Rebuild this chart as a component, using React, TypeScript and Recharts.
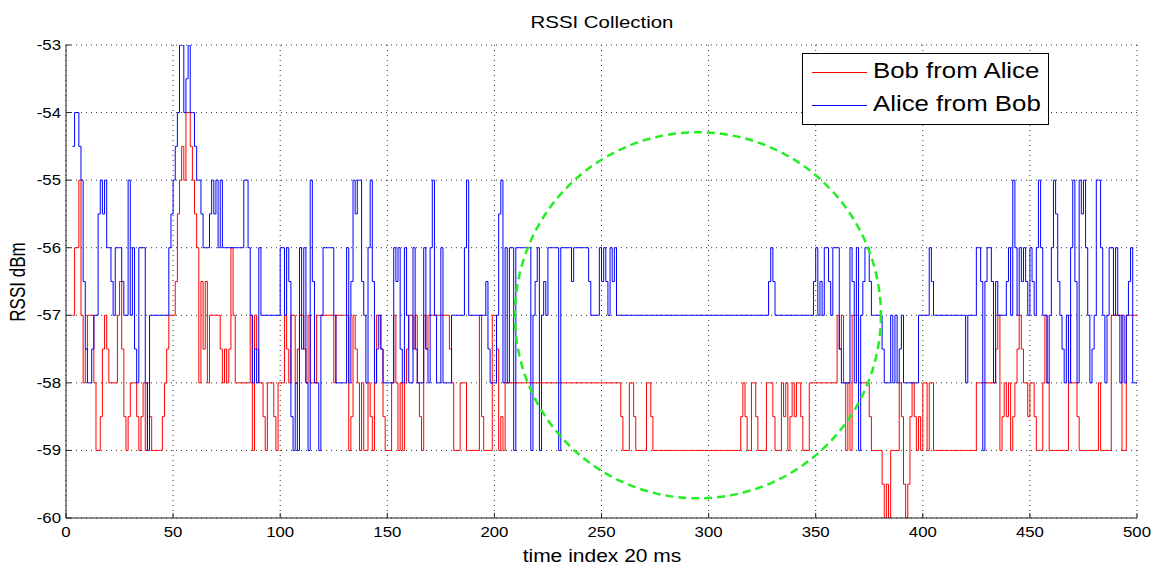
import React from 'react';
import { LineChart, Line, XAxis, YAxis, CartesianGrid, ReferenceDot, Legend } from 'recharts';

const FONT = '"Liberation Sans", Arial, Helvetica, sans-serif';
const STRETCH = 1.2;

const titleText = 'RSSI Collection';
const xLabelText = 'time index 20 ms';
const yLabelText = 'RSSI dBm';
const seriesNames = ['Bob from Alice', 'Alice from Bob'];
const seriesColors = ['#ff0000', '#0000ff'];
const xTicks = [0, 50, 100, 150, 200, 250, 300, 350, 400, 450, 500];
const yTicks = [-60, -59, -58, -57, -56, -55, -54, -53];
const startIndex = 3;
const circleCenterIndex = 295;
const circleCenterRssi = -57;

// Bob from Alice (red), index 3..500
const bobFromAlice = [
  -57, -56, -56, -55, -57, -58, -57.5, -57, -57, -57,
  -58, -59, -59, -58.5, -57.5, -57, -57.5, -58, -58, -58,
  -58, -57, -56.5, -57.5, -58.5, -59, -58.5, -58, -58, -58,
  -58.5, -59, -58.5, -58, -59, -58, -58.5, -59, -59, -59,
  -59, -59, -58.5, -58, -57.5, -57, -57, -57, -56.5, -55.5,
  -55, -54.5, -55, -54, -54, -54.5, -55, -55.5, -56, -58,
  -56.5, -57.5, -56.5, -58, -57, -57, -57, -57, -57, -57.5,
  -58, -57.5, -58, -57.5, -56, -57, -58, -58, -58, -58,
  -58, -58, -58, -57, -59, -57, -57.5, -58, -58, -58.5,
  -59, -58, -58, -58, -58.5, -59, -58, -58, -58, -57,
  -57.5, -58, -57, -57, -58, -57.5, -57, -57, -57.5, -58,
  -57, -58, -58, -58, -57, -57, -57, -57, -57, -57,
  -57, -57, -58, -57, -57, -57, -57, -57, -57, -59,
  -58.5, -57, -57.5, -58, -59, -58, -59, -59, -58, -58.5,
  -59, -58, -57, -57, -57.5, -58.5, -59, -59, -59, -58,
  -57, -58, -59, -58, -59, -58, -57.5, -57, -57, -57.5,
  -57, -58, -58.5, -59, -57, -57.5, -57, -57, -57, -57,
  -57, -57, -57, -57, -57, -57, -57.5, -58, -59, -59,
  -59, -58, -58, -58, -59, -59, -59, -59, -59, -59,
  -57, -58.5, -59, -59, -59, -59, -57, -57, -57.5, -59,
  -58.5, -59, -58, -58, -58, -58, -58, -58, -58, -58,
  -58, -58, -58, -58, -58, -58, -58, -58, -58, -58,
  -58, -58, -58, -58, -58, -58, -58, -58, -58, -58,
  -58, -58, -58, -58, -58, -58, -58, -58, -58, -58,
  -58, -58, -58, -58, -58, -58, -58, -58, -58, -58,
  -58, -58, -58, -58, -58, -58, -58.5, -59, -59, -59,
  -58, -58, -58.5, -59, -59, -59, -59, -59, -58, -58,
  -58.5, -59, -59, -59, -59, -59, -59, -59, -59, -59,
  -59, -59, -59, -59, -59, -59, -59, -59, -59, -59,
  -59, -59, -59, -59, -59, -59, -59, -59, -59, -59,
  -59, -59, -59, -59, -59, -59, -59, -59, -59, -59,
  -59, -59, -58.5, -58, -58.5, -59, -59, -58, -58, -58.5,
  -59, -59, -59, -59, -58, -58, -58, -58.5, -59, -59,
  -59, -58, -58.5, -58, -59, -58.5, -58, -58.5, -58, -58,
  -58.5, -59, -59, -59, -58, -58, -58, -58, -58, -58,
  -58, -58, -58, -58, -58, -58, -58, -57, -57.5, -57,
  -58, -59, -58, -59, -57, -57, -57, -58, -58, -58,
  -58, -58, -58.5, -59, -59, -59, -59, -59, -59.5, -60,
  -59.5, -60, -59, -59, -59, -59, -58, -58.5, -59.5, -60,
  -59.5, -58.5, -58, -58.5, -59, -58.5, -59, -58, -58, -59,
  -58, -58, -59, -59, -59, -59, -59, -59, -59, -59,
  -59, -59, -59, -59, -59, -59, -59, -59, -59, -59,
  -59, -59, -58, -58, -58, -58, -58, -58, -58, -58,
  -58, -57.5, -57, -59, -58.5, -58, -58.5, -58, -59, -58.5,
  -58, -57.5, -57, -57.5, -58, -58, -58.5, -58, -58, -58.5,
  -59, -59, -59, -58, -57, -58, -59, -59, -59, -59,
  -59, -59, -59, -59, -59, -57, -58, -58, -58, -58.5,
  -59, -59, -59, -59, -59, -59, -59, -59, -59, -58,
  -59, -59, -59, -59, -59, -57, -57, -57, -57, -57,
  -59, -59, -57, -57, -57, -57, -57, -57,
];

// Alice from Bob (blue), index 3..500
const aliceFromBob = [
  -54.5, -54, -54, -54.5, -55, -56.5, -57.5, -58, -58, -57.5,
  -57, -57, -55.5, -55, -55.5, -55, -56, -56, -56.5, -57,
  -56, -56, -56, -56.5, -57, -57, -55, -57, -56, -57.5,
  -58, -56, -56, -56, -58, -59, -57, -57, -57, -57,
  -57, -57, -57, -57, -57, -56, -55.5, -55, -54.5, -54,
  -53, -53, -54, -53.5, -53, -54, -54, -54.5, -55, -55,
  -55.5, -56, -56, -56, -55.5, -55, -55.5, -55, -56, -55,
  -56, -56, -56, -56, -56, -56, -56, -56, -56, -56,
  -55, -55, -56, -57, -58, -57.5, -58, -56, -57, -57,
  -57, -57, -57, -57, -57, -57, -57, -56, -56, -57,
  -56, -56.5, -58.5, -59, -58, -59, -56, -57.5, -56, -58,
  -59, -55, -56.5, -58, -58, -59, -57, -56, -56, -56,
  -56, -56, -57, -58, -58, -58, -58, -58, -56, -58,
  -56.5, -55, -55.5, -55, -55, -56.5, -57, -58, -56, -55,
  -56.5, -58, -57.5, -57, -57.5, -58, -58, -58, -58, -58,
  -56, -56.5, -56, -57.5, -58, -56, -57, -58, -58, -56,
  -57.5, -58, -58, -58, -56, -57.5, -58, -56, -55, -57,
  -58, -58, -56, -58, -58, -58, -58, -57, -57, -57,
  -57, -57, -57, -56, -55, -57, -57, -57, -57, -57,
  -57, -57, -57, -56.5, -57.5, -58, -58, -58, -57, -55.5,
  -55, -58, -56, -58, -56, -56, -59, -56, -56, -56,
  -56, -56, -56, -56, -59, -57, -56.5, -56, -59, -57,
  -56.5, -57, -56, -56, -56, -56, -56, -59, -56, -56,
  -56, -56, -56, -56.5, -56, -56, -56, -56, -56, -56,
  -56, -56.5, -57, -57, -57, -57, -56, -56.5, -56, -56.5,
  -57, -56, -56.5, -56, -57, -57, -57, -57, -57, -57,
  -57, -57, -57, -57, -57, -57, -57, -57, -57, -57,
  -57, -57, -57, -57, -57, -57, -57, -57, -57, -57,
  -57, -57, -57, -57, -57, -57, -57, -57, -57, -57,
  -57, -57, -57, -57, -57, -57, -57, -57, -57, -57,
  -57, -57, -57, -57, -57, -57, -57, -57, -57, -57,
  -57, -57, -57, -57, -57, -57, -57, -57, -57, -57,
  -57, -57, -57, -57, -57, -56.5, -56, -56.5, -57, -57,
  -57, -57, -57, -57, -57, -57, -57, -57, -57, -57,
  -57, -57, -57, -57, -57, -57, -56.5, -56, -57, -56.5,
  -57, -56, -56, -56.5, -57, -56, -56, -56, -57.5, -58,
  -58, -58, -58, -56, -56.5, -58, -56, -59, -57, -56.5,
  -56, -56, -56.5, -57, -57, -57, -57, -57, -57.5, -58,
  -58, -58, -57, -58, -57, -58, -57.5, -57, -58, -58,
  -58, -58, -58, -58, -58, -57, -57, -57, -57, -57,
  -56, -56.5, -57, -57, -57, -57, -57, -57, -57, -57,
  -57, -57, -57, -57, -57, -57, -57, -58, -57, -57,
  -57, -57, -56, -56, -56.5, -59, -56.5, -56, -56, -56.5,
  -58, -56.5, -57, -57, -57, -57, -56.5, -56, -57, -55,
  -56, -57, -56, -56.5, -56, -56.5, -57, -56, -56.5, -57,
  -56, -55, -56, -57, -57, -58, -57, -56, -55, -55.5,
  -56.5, -57, -57.5, -58, -57, -58, -56, -55, -56.5, -58,
  -55, -55.5, -55, -56, -57, -58, -57.5, -57, -55, -55,
  -56, -57, -58, -57, -56, -56, -57, -56, -57, -58,
  -57, -58, -57, -56.5, -56, -58, -58, -58,
];

const data = bobFromAlice.map((v, k) => ({
  t: startIndex + k,
  bob: v,
  alice: aliceFromBob[k],
}));

const XTick = (props: any) => {
  const { x, y, payload } = props;
  return (
    <g transform={`translate(${x},${y})`}>
      <text transform={`scale(${STRETCH},1)`} textAnchor="middle" dy="0.71em" fontSize={14} fontFamily={FONT} fill="#000">
        {payload.value}
      </text>
    </g>
  );
};

const YTick = (props: any) => {
  const { x, y, payload } = props;
  return (
    <g transform={`translate(${x},${y})`}>
      <text transform={`scale(${STRETCH},1)`} textAnchor="end" dy="0.355em" fontSize={14} fontFamily={FONT} fill="#000">
        {payload.value}
      </text>
    </g>
  );
};

const renderLegend = () => (
  <div
    style={{
      width: 247,
      height: 72,
      border: '1px solid #000',
      background: '#fff',
      boxSizing: 'border-box',
      position: 'relative',
      fontFamily: FONT,
    }}
  >
    {seriesNames.map((name, i) => (
      <div key={name} style={{ position: 'absolute', left: 0, top: i === 0 ? 18 : 51, width: '100%', height: 0 }}>
        <div style={{ position: 'absolute', left: 9, top: 0, width: 55, borderTop: `1px solid ${seriesColors[i]}` }} />
        <span
          style={{
            position: 'absolute',
            left: 70,
            top: 0,
            transform: `translateY(-50%) scaleX(${STRETCH})`,
            transformOrigin: 'left center',
            fontSize: 21.5,
            lineHeight: 1,
            whiteSpace: 'nowrap',
            color: '#000',
          }}
        >
          {name}
        </span>
      </div>
    ))}
  </div>
);

const overlayText = (text: string, left: number, top: number, size: number, rotate = false) => (
  <div
    style={{
      position: 'absolute',
      left,
      top,
      transform: rotate
        ? `translate(-50%,-50%) scaleX(1.3) rotate(-90deg)`
        : `translate(-50%,-50%) scaleX(${STRETCH})`,
      fontSize: size,
      lineHeight: 1,
      whiteSpace: 'nowrap',
      fontFamily: FONT,
      color: '#000',
    }}
  >
    {text}
  </div>
);

export default function App() {
  return (
    <div style={{ position: 'absolute', left: 0, top: 0, width: 1158, height: 568, background: '#fff' }}>
      <LineChart width={1158} height={568} data={data} margin={{ top: 45, right: 21, bottom: 0, left: 0 }}>
        <CartesianGrid stroke="#333" strokeDasharray="1 4" />
        <XAxis
          dataKey="t"
          type="number"
          domain={[0, 500]}
          ticks={xTicks}
          interval={0}
          height={50}
          tickSize={-5}
          tickMargin={14}
          tick={XTick}
          axisLine={{ stroke: '#222' }}
          tickLine={{ stroke: '#222' }}
          allowDataOverflow
        />
        <XAxis
          xAxisId="top"
          orientation="top"
          dataKey="t"
          type="number"
          domain={[0, 500]}
          ticks={xTicks}
          interval={0}
          height={0}
          tickSize={-5}
          tick={false}
          axisLine={{ stroke: '#222' }}
          tickLine={{ stroke: '#222' }}
          allowDataOverflow
        />
        <YAxis
          type="number"
          domain={[-60, -53]}
          ticks={yTicks}
          interval={0}
          width={66}
          tickSize={-5}
          tickMargin={10}
          tick={YTick}
          axisLine={{ stroke: '#222' }}
          tickLine={{ stroke: '#222' }}
          allowDataOverflow
        />
        <YAxis
          yAxisId="right"
          orientation="right"
          type="number"
          domain={[-60, -53]}
          ticks={yTicks}
          interval={0}
          width={0}
          tickSize={-5}
          tick={false}
          axisLine={{ stroke: '#222' }}
          tickLine={{ stroke: '#222' }}
          allowDataOverflow
        />
        <Line
          type="stepAfter"
          dataKey="bob"
          name={seriesNames[0]}
          stroke={seriesColors[0]}
          strokeWidth={1}
          dot={false}
          isAnimationActive={false}
        />
        <Line
          type="stepAfter"
          dataKey="alice"
          name={seriesNames[1]}
          stroke={seriesColors[1]}
          strokeWidth={1}
          dot={false}
          isAnimationActive={false}
        />
        <ReferenceDot
          x={circleCenterIndex}
          y={circleCenterRssi}
          r={183}
          fill="none"
          stroke="#22ee22"
          strokeWidth={2.5}
          strokeDasharray="8 5"
        />
        <Legend
          layout="vertical"
          verticalAlign="middle"
          align="center"
          content={renderLegend}
          wrapperStyle={{ left: 802, top: 53, width: 247, height: 72 }}
        />
      </LineChart>
      {overlayText(titleText, 601.5, 22, 17)}
      {overlayText(xLabelText, 601.5, 557, 17.5)}
      {overlayText(yLabelText, 18, 282, 17, true)}
    </div>
  );
}
